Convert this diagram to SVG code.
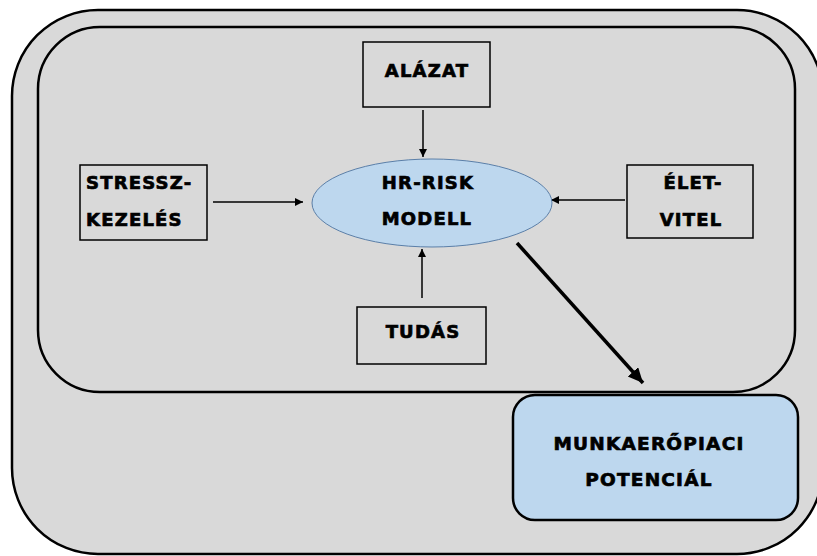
<svg xmlns="http://www.w3.org/2000/svg" width="817" height="556" viewBox="0 0 817 556">
<defs>
<style>
.frame{fill:#d9d9d9;stroke:#000;stroke-width:2.5}
.box{fill:none;stroke:#000;stroke-width:1.5}
.lbl{font-family:"DejaVu Sans","Liberation Sans",sans-serif;font-weight:bold;font-size:18px;letter-spacing:1.2px;fill:#000;stroke:#000;stroke-width:0.7px}
.conn{stroke:#000;stroke-width:1.5;fill:none}
</style>
<marker id="ah" markerUnits="userSpaceOnUse" markerWidth="10" markerHeight="10" refX="8" refY="4" orient="auto">
<path d="M0,0 L8,4 L0,8 z" fill="#000"/>
</marker>
<marker id="ahb" markerUnits="userSpaceOnUse" markerWidth="18" markerHeight="16" refX="15" refY="7" orient="auto">
<path d="M0,0 L15,7 L0,14 z" fill="#000"/>
</marker>
</defs>
<rect class="frame" x="12" y="10" width="811" height="544" rx="86" ry="86"/>
<rect class="frame" x="38" y="27" width="757" height="365" rx="62" ry="62"/>
<g id="connectors">
<line class="conn" x1="423" y1="110" x2="423" y2="157" marker-end="url(#ah)"/>
<line class="conn" x1="213" y1="202" x2="303" y2="202" marker-end="url(#ah)"/>
<line class="conn" x1="625" y1="200" x2="551" y2="200" marker-end="url(#ah)"/>
<line class="conn" x1="422" y1="298" x2="422" y2="249" marker-end="url(#ah)"/>
<line class="conn" style="stroke-width:3.5" x1="517" y1="243" x2="643" y2="383" marker-end="url(#ahb)"/>
</g>
<g id="alazat">
<rect class="box" x="363" y="42" width="127" height="65"/>
<text class="lbl" x="427" y="77" text-anchor="middle">ALÁZAT</text>
</g>
<g id="stressz">
<rect class="box" x="80" y="165" width="127" height="75"/>
<text class="lbl" x="86" y="189">STRESSZ-</text>
<text class="lbl" x="86" y="226">KEZELÉS</text>
</g>
<g id="hrrisk">
<ellipse cx="432" cy="203" rx="120" ry="44" fill="#bdd7ee" stroke="#5b7fa8" stroke-width="1"/>
<text class="lbl" x="428" y="189" text-anchor="middle">HR-RISK</text>
<text class="lbl" x="427" y="225" text-anchor="middle">MODELL</text>
</g>
<g id="eletvitel">
<rect class="box" x="627" y="165" width="126" height="73"/>
<text class="lbl" x="693" y="189" text-anchor="middle">ÉLET-</text>
<text class="lbl" x="691" y="226" text-anchor="middle">VITEL</text>
</g>
<g id="tudas">
<rect class="box" x="357" y="307" width="129" height="57"/>
<text class="lbl" x="423" y="338" text-anchor="middle">TUDÁS</text>
</g>
<g id="munkaeropiaci">
<rect x="513" y="395" width="285" height="125" rx="22" ry="22" fill="#bdd7ee" stroke="#000" stroke-width="2.5"/>
<text class="lbl" style="font-size:18.5px" x="649" y="450" text-anchor="middle">MUNKAERŐPIACI</text>
<text class="lbl" style="font-size:18.5px" x="649" y="486" text-anchor="middle">POTENCIÁL</text>
</g>
</svg>
